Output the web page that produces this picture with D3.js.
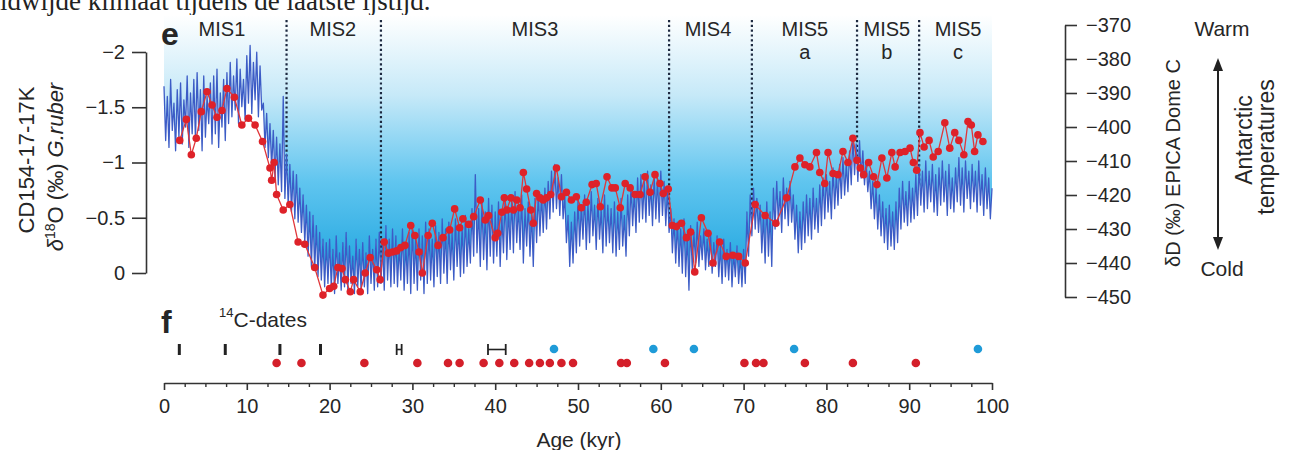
<!DOCTYPE html>
<html><head><meta charset="utf-8">
<script src="https://cdn.jsdelivr.net/npm/d3@7"></script>
<style>
body{margin:0;background:#fff}
svg{display:block}
text{font-family:"Liberation Sans",Arial,Helvetica,sans-serif;fill:#262626}
</style>
</head><body>
<svg id="chart" width="1296" height="450"></svg>
<script>
// ---------------- DATA ----------------
const ageTicks = [0,10,20,30,40,50,60,70,80,90,100];
const ageMinorTicks = [2.5,5,7.5,12.5,15,17.5,22.5,25,27.5,32.5,35,37.5,42.5,45,47.5,52.5,55,57.5,62.5,65,67.5,72.5,75,77.5,82.5,85,87.5,92.5,95,97.5];
const leftTicks = [0,-0.5,-1,-1.5,-2];
const rightTicks = [-370,-380,-390,-400,-410,-420,-430,-440,-450];

const misBoundaries = [14.8,26.2,61.0,71.0,83.7,91.2];
const misNames = ["MIS1","MIS2","MIS3","MIS4","MIS5","MIS5","MIS5"];
const misSubs  = ["","","","","a","b","c"];
const misCenters = [7.0,20.4,44.8,65.7,77.4,87.3,95.9];

// EPICA Dome C deltaD (permil), [age kyr, value] — high-resolution record
const epicaDD = [
[0,-388],[0.2,-404],[0.4,-391],[0.6,-406],[0.8,-386],[1,-401],[1.2,-393],[1.4,-407],[1.6,-389],[1.8,-403],
[2,-387],[2.2,-405],[2.4,-392],[2.6,-400],[2.8,-385],[3,-406],[3.2,-390],[3.4,-402],[3.6,-386],[3.8,-404],
[4,-384],[4.2,-401],[4.4,-389],[4.6,-407],[4.8,-385],[5,-403],[5.2,-391],[5.4,-399],[5.6,-387],[5.8,-405],
[6,-385],[6.2,-402],[6.4,-383],[6.6,-406],[6.8,-390],[7,-400],[7.2,-386],[7.4,-404],[7.6,-384],[7.8,-399],
[8,-381],[8.2,-397],[8.4,-385],[8.6,-395],[8.8,-380],[9,-399],[9.2,-383],[9.4,-394],[9.6,-386],[9.8,-398],
[10,-379],[10.2,-393],[10.4,-376],[10.6,-396],[10.8,-381],[11,-392],[11.2,-378],[11.4,-397],[11.6,-382],[11.8,-395],
[12,-393],[12.2,-406],[12.4,-396],[12.6,-409],[12.8,-399],[13,-412],[13.2,-401],[13.4,-415],[13.6,-403],[13.8,-417],
[14,-405],[14.2,-419],[14.4,-391],[14.6,-421],[14.8,-408],[15,-423],[15.2,-411],[15.4,-425],[15.6,-413],[15.8,-427],
[16,-414],[16.2,-428],[16.4,-418],[16.6,-431],[16.8,-420],[17,-434],[17.2,-423],[17.4,-438],[17.6,-425],[17.8,-441],
[18,-426],[18.2,-442],[18.4,-429],[18.6,-444],[18.8,-431],[19,-445],[19.2,-433],[19.4,-447],[19.6,-434],[19.8,-446],
[20,-433],[20.2,-447],[20.4,-436],[20.6,-449],[20.8,-432],[21,-446],[21.2,-437],[21.4,-448],[21.6,-434],[21.8,-447],
[22,-431],[22.2,-448],[22.4,-435],[22.6,-446],[22.8,-438],[23,-449],[23.2,-433],[23.4,-447],[23.6,-436],[23.8,-448],
[24,-434],[24.2,-447],[24.4,-437],[24.6,-449],[24.8,-432],[25,-446],[25.2,-436],[25.4,-448],[25.6,-433],[25.8,-447],
[26,-431],[26.2,-446],[26.4,-434],[26.6,-448],[26.8,-429],[27,-445],[27.2,-433],[27.4,-447],[27.6,-430],[27.8,-446],
[28,-432],[28.2,-447],[28.4,-435],[28.6,-445],[28.8,-430],[29,-448],[29.2,-434],[29.4,-446],[29.6,-431],[29.8,-449],
[30,-429],[30.2,-446],[30.4,-433],[30.6,-448],[30.8,-430],[31,-445],[31.2,-432],[31.4,-449],[31.6,-428],[31.8,-446],
[32,-430],[32.2,-445],[32.4,-433],[32.6,-447],[32.8,-429],[33,-444],[33.2,-431],[33.4,-446],[33.6,-427],[33.8,-443],
[34,-430],[34.2,-446],[34.4,-428],[34.6,-442],[34.8,-431],[35,-445],[35.2,-427],[35.4,-441],[35.6,-429],[35.8,-444],
[36,-429],[36.2,-443],[36.4,-426],[36.6,-441],[36.8,-430],[37,-440],[37.2,-424],[37.4,-438],[37.6,-414],[37.8,-437],
[38,-424],[38.2,-441],[38.4,-422],[38.6,-439],[38.8,-425],[39,-442],[39.2,-421],[39.4,-438],[39.6,-423],[39.8,-440],
[40,-425],[40.2,-438],[40.4,-422],[40.6,-441],[40.8,-426],[41,-437],[41.2,-420],[41.4,-439],[41.6,-424],[41.8,-436],
[42,-421],[42.2,-437],[42.4,-419],[42.6,-434],[42.8,-423],[43,-436],[43.2,-420],[43.4,-440],[43.6,-424],[43.8,-435],
[44,-422],[44.2,-438],[44.4,-425],[44.6,-441],[44.8,-421],[45,-434],[45.2,-419],[45.4,-432],[45.6,-420],[45.8,-431],
[46,-418],[46.2,-430],[46.4,-416],[46.6,-427],[46.8,-413],[47,-425],[47.2,-411],[47.4,-424],[47.6,-415],[47.8,-426],
[48,-414],[48.2,-427],[48.4,-420],[48.6,-434],[48.8,-426],[49,-441],[49.2,-428],[49.4,-440],[49.6,-425],[49.8,-437],
[50,-421],[50.2,-435],[50.4,-423],[50.6,-433],[50.8,-420],[51,-436],[51.2,-422],[51.4,-434],[51.6,-419],[51.8,-432],
[52,-423],[52.2,-436],[52.4,-421],[52.6,-433],[52.8,-424],[53,-437],[53.2,-420],[53.4,-435],[53.6,-423],[53.8,-434],
[54,-424],[54.2,-437],[54.4,-422],[54.6,-438],[54.8,-425],[55,-436],[55.2,-421],[55.4,-435],[55.6,-426],[55.8,-438],
[56,-420],[56.2,-432],[56.4,-417],[56.6,-429],[56.8,-419],[57,-431],[57.2,-415],[57.4,-428],[57.6,-414],[57.8,-427],
[58,-416],[58.2,-428],[58.4,-413],[58.6,-426],[58.8,-417],[59,-429],[59.2,-414],[59.4,-427],[59.6,-415],[59.8,-428],
[60,-413],[60.2,-426],[60.4,-416],[60.6,-429],[60.8,-418],[61,-431],[61.2,-424],[61.4,-437],[61.6,-427],[61.8,-440],
[62,-428],[62.2,-441],[62.4,-430],[62.6,-443],[62.8,-427],[63,-444],[63.2,-432],[63.4,-448],[63.6,-429],[63.8,-442],
[64,-431],[64.2,-440],[64.4,-428],[64.6,-441],[64.8,-432],[65,-439],[65.2,-430],[65.4,-442],[65.6,-433],[65.8,-441],
[66,-431],[66.2,-443],[66.4,-434],[66.6,-441],[66.8,-432],[67,-444],[67.2,-435],[67.4,-446],[67.6,-433],[67.8,-444],
[68,-436],[68.2,-445],[68.4,-434],[68.6,-447],[68.8,-437],[69,-444],[69.2,-435],[69.4,-446],[69.6,-438],[69.8,-447],
[70,-436],[70.2,-446],[70.4,-425],[70.6,-438],[70.8,-420],[71,-432],[71.2,-418],[71.4,-430],[71.6,-421],[71.8,-431],
[72,-423],[72.2,-437],[72.4,-426],[72.6,-440],[72.8,-422],[73,-438],[73.2,-425],[73.4,-441],[73.6,-418],[73.8,-430],
[74,-416],[74.2,-428],[74.4,-419],[74.6,-431],[74.8,-415],[75,-427],[75.2,-418],[75.4,-429],[75.6,-416],[75.8,-428],
[76,-420],[76.2,-433],[76.4,-423],[76.6,-437],[76.8,-425],[77,-436],[77.2,-422],[77.4,-434],[77.6,-420],[77.8,-432],
[78,-421],[78.2,-433],[78.4,-418],[78.6,-430],[78.8,-421],[79,-431],[79.2,-417],[79.4,-429],[79.6,-415],[79.8,-427],
[80,-414],[80.2,-425],[80.4,-416],[80.6,-427],[80.8,-412],[81,-424],[81.2,-414],[81.4,-423],[81.6,-411],[81.8,-421],
[82,-409],[82.2,-420],[82.4,-411],[82.6,-419],[82.8,-407],[83,-417],[83.2,-403],[83.4,-414],[83.6,-405],[83.8,-416],
[84,-404],[84.2,-415],[84.4,-407],[84.6,-417],[84.8,-410],[85,-419],[85.2,-413],[85.4,-424],[85.6,-416],[85.8,-427],
[86,-418],[86.2,-430],[86.4,-420],[86.6,-432],[86.8,-422],[87,-434],[87.2,-424],[87.4,-436],[87.6,-423],[87.8,-435],
[88,-425],[88.2,-436],[88.4,-422],[88.6,-434],[88.8,-418],[89,-430],[89.2,-416],[89.4,-428],[89.6,-419],[89.8,-429],
[90,-416],[90.2,-428],[90.4,-418],[90.6,-427],[90.8,-414],[91,-426],[91.2,-411],[91.4,-423],[91.6,-413],[91.8,-425],
[92,-410],[92.2,-424],[92.4,-413],[92.6,-422],[92.8,-411],[93,-425],[93.2,-414],[93.4,-426],[93.6,-412],[93.8,-423],
[94,-410],[94.2,-422],[94.4,-413],[94.6,-426],[94.8,-411],[95,-424],[95.2,-415],[95.4,-425],[95.6,-412],[95.8,-422],
[96,-409],[96.2,-423],[96.4,-412],[96.6,-425],[96.8,-410],[97,-421],[97.2,-413],[97.4,-424],[97.6,-411],[97.8,-422],
[98,-413],[98.2,-425],[98.4,-410],[98.6,-423],[98.8,-414],[99,-426],[99.2,-412],[99.4,-424],[99.6,-415],[99.8,-427],
[100,-418]
];

// CD154-17-17K G. ruber d18O (permil), [age kyr, value]
const ruberD18O = [
[1.9,-1.20],[2.7,-1.39],[3.3,-1.07],[3.9,-1.22],[4.5,-1.46],[5.2,-1.64],[5.8,-1.52],[6.4,-1.41],[7.0,-1.47],[7.6,-1.67],
[8.5,-1.59],[9.4,-1.34],[10.2,-1.40],[11.0,-1.34],[11.9,-1.19],[12.8,-0.95],[13.0,-0.84],[13.3,-1.00],[13.6,-0.71],[14.4,-0.57],
[15.2,-0.62],[16.2,-0.28],[17.0,-0.26],[18.2,-0.05],[19.2,0.20],[20.0,0.14],[20.5,0.12],[21.0,-0.05],[21.5,-0.04],[21.9,0.06],
[22.5,0.17],[22.9,0.06],[23.7,0.17],[24.3,0.00],[24.9,-0.14],[25.7,-0.03],[26.1,0.06],[26.6,-0.28],[27.1,-0.18],[27.6,-0.19],
[28.1,-0.20],[28.6,-0.23],[29.1,-0.25],[29.8,-0.43],[30.3,-0.34],[30.8,-0.19],[31.2,0.00],[31.9,-0.34],[32.4,-0.45],[33.1,-0.25],
[33.7,-0.32],[34.5,-0.39],[35.1,-0.58],[35.7,-0.41],[36.1,-0.49],[36.8,-0.44],[37.4,-0.51],[38.2,-0.66],[38.8,-0.48],[39.2,-0.52],
[40.0,-0.32],[40.3,-0.36],[40.8,-0.55],[41.1,-0.68],[41.4,-0.57],[41.9,-0.68],[42.2,-0.57],[42.6,-0.66],[43.0,-0.59],[43.4,-0.91],
[43.8,-0.76],[44.3,-0.57],[44.6,-0.45],[45.0,-0.72],[45.4,-0.68],[45.8,-0.66],[46.2,-0.68],[46.7,-0.71],[47.4,-0.95],[48.0,-0.69],
[48.6,-0.73],[49.2,-0.66],[49.8,-0.69],[50.4,-0.59],[51.0,-0.64],[51.7,-0.80],[52.2,-0.81],[52.7,-0.60],[53.5,-0.87],[54.1,-0.77],
[54.5,-0.77],[55.1,-0.59],[55.7,-0.81],[56.3,-0.77],[56.9,-0.71],[57.5,-0.71],[58.1,-0.87],[58.7,-0.73],[59.3,-0.89],[59.9,-0.81],
[60.3,-0.72],[60.9,-0.76],[61.4,-0.43],[61.9,-0.42],[62.5,-0.45],[63.1,-0.32],[63.6,-0.37],[64.1,-0.01],[64.9,-0.50],[65.7,-0.36],
[66.3,-0.09],[67.1,-0.28],[67.9,-0.15],[68.7,-0.16],[69.4,-0.15],[70.2,-0.09],[71.4,-0.62],[72.6,-0.52],[73.9,-0.45],[75.2,-0.68],
[76.2,-0.96],[76.8,-1.04],[77.4,-0.98],[78.0,-0.96],[78.8,-1.09],[79.2,-0.91],[79.8,-0.81],[80.2,-1.09],[80.8,-0.90],[81.4,-0.89],
[82.0,-1.10],[82.6,-1.00],[83.2,-1.22],[83.7,-1.02],[84.1,-0.95],[84.5,-0.89],[85.1,-1.00],[85.7,-0.87],[86.1,-0.80],[86.7,-1.04],
[87.3,-0.86],[87.9,-1.09],[88.3,-0.96],[88.9,-1.09],[89.5,-1.10],[90.1,-1.13],[90.5,-1.00],[90.9,-0.93],[91.3,-1.27],[91.8,-1.14],
[92.4,-1.20],[92.9,-1.05],[93.5,-1.10],[94.3,-1.36],[94.9,-1.13],[95.5,-1.27],[96.0,-1.20],[96.6,-1.07],[97.1,-1.37],[97.5,-1.34],
[97.9,-1.10],[98.3,-1.25],[98.9,-1.19]
];

// 14C dates: [age kyr, half-error kyr]
const c14Dates = [[1.85,0],[7.4,0],[14.0,0],[18.9,0],[28.4,0.3],[40.2,1.07]];
// tie-point ages (kyr)
const redTiePoints = [13.6,16.6,24.2,30.6,34.3,35.7,38.6,40.5,42.3,44.1,45.4,46.6,48.0,49.4,55.2,55.9,60.5,70.1,71.5,72.4,77.4,83.2,90.8];
const blueTiePoints = [47.1,59.1,64.0,76.1,98.3];

// ---------------- DRAW ----------------
const svg = d3.select("#chart");
const x  = d3.scaleLinear().domain([0,100]).range([164,992]);
const yL = d3.scaleLinear().domain([0,-2]).range([273,52]);
const yR = d3.scaleLinear().domain([-450,-370]).range([297,25]);
const plotTop = 15, plotBottom = 302;

// caption remnant at very top (cropped in the source)
svg.append("text").attr("x",0).attr("y",10)
  .style("font-family","'Liberation Serif',serif").style("font-size","27px").style("fill","#222")
  .text("ldwijde klimaat tijdens de laatste ijstijd.");

const defs = svg.append("defs");
const grad = defs.append("linearGradient").attr("id","bg").attr("gradientUnits","userSpaceOnUse")
  .attr("x1",0).attr("x2",0).attr("y1",plotTop).attr("y2",plotBottom);
grad.append("stop").attr("offset","0%").attr("stop-color","#ffffff");
grad.append("stop").attr("offset","28%").attr("stop-color","#c6e9f8");
grad.append("stop").attr("offset","58%").attr("stop-color","#60c5ef");
grad.append("stop").attr("offset","100%").attr("stop-color","#0c9cdb");

// gradient area above EPICA curve
svg.append("path").datum(epicaDD)
  .attr("d", d3.area().x(d=>x(d[0])).y0(plotTop).y1(d=>yR(d[1])))
  .attr("fill","url(#bg)");

// MIS boundaries
svg.append("g").selectAll("line").data(misBoundaries).join("line")
  .attr("x1",d=>x(d)).attr("x2",d=>x(d)).attr("y1",20).attr("y2",plotBottom)
  .attr("stroke","#1d2940").attr("stroke-width",2.2).attr("stroke-dasharray","2.2,2.6");

// white below curve (hides boundaries)
svg.append("path").datum(epicaDD)
  .attr("d", d3.area().x(d=>x(d[0])).y0(d=>yR(d[1])).y1(plotBottom+4))
  .attr("fill","#ffffff");

// EPICA line
svg.append("path").datum(epicaDD)
  .attr("d", d3.line().x(d=>x(d[0])).y(d=>yR(d[1])))
  .attr("fill","none").attr("stroke","#3c5cc6").attr("stroke-width",1.3).attr("stroke-linejoin","round");

// G. ruber line + dots
svg.append("path").datum(ruberD18O)
  .attr("d", d3.line().x(d=>x(d[0])).y(d=>yL(d[1])))
  .attr("fill","none").attr("stroke","#e0363a").attr("stroke-width",1.3);
svg.append("g").selectAll("circle").data(ruberD18O).join("circle")
  .attr("cx",d=>x(d[0])).attr("cy",d=>yL(d[1])).attr("r",3.8).attr("fill","#de2229");

// MIS labels
const misG = svg.append("g").style("font-size","20px").attr("text-anchor","middle");
misG.selectAll("text.n").data(misNames).join("text").attr("class","n")
  .attr("x",(d,i)=>x(misCenters[i])).attr("y",36).text(d=>d);
misG.selectAll("text.s").data(misSubs).join("text").attr("class","s")
  .attr("x",(d,i)=>x(misCenters[i])).attr("y",59).text(d=>d);

svg.append("text").attr("x",161).attr("y",45).style("font-size","32px").style("font-weight","bold").text("e");

// left axis
const fmtL = d => d===0 ? "0" : "\u2212" + Math.abs(d);
const axL = svg.append("g").attr("transform","translate(146,0)")
  .call(d3.axisLeft(yL).tickValues(leftTicks).tickFormat(fmtL).tickSize(14).tickPadding(7).tickSizeOuter(0));
axL.selectAll("text").style("font-size","20px").style("font-family","'Liberation Sans',Arial,sans-serif").attr("fill","#262626");
axL.selectAll("path,line").attr("stroke","#333").attr("stroke-width",1.6);

// right axis
const axR = svg.append("g").attr("transform","translate(1065,0)")
  .call(d3.axisRight(yR).tickValues(rightTicks).tickFormat(d=>"\u2212"+Math.abs(d)).tickSize(12).tickPadding(9).tickSizeOuter(0));
axR.selectAll("text").style("font-size","20px").style("font-family","'Liberation Sans',Arial,sans-serif").attr("fill","#262626");
axR.selectAll("path,line").attr("stroke","#333").attr("stroke-width",1.6);

// axis titles
svg.append("text").attr("transform","translate(34,160) rotate(-90)").attr("text-anchor","middle")
  .style("font-size","22px").text("CD154-17-17K");
const t2 = svg.append("text").attr("transform","translate(63,167) rotate(-90)").attr("text-anchor","middle").style("font-size","22px");
t2.append("tspan").style("font-style","italic").text("\u03B4");
t2.append("tspan").attr("dy",-8).style("font-size","14px").text("18");
t2.append("tspan").attr("dy",8).text("O (\u2030) ");
t2.append("tspan").style("font-style","italic").text("G.ruber");

svg.append("text").attr("transform","translate(1180,163) rotate(-90)").attr("text-anchor","middle")
  .style("font-size","20px").text("\u03B4D (\u2030) EPICA Dome C");

svg.append("text").attr("x",1222).attr("y",36).attr("text-anchor","middle").style("font-size","21px").text("Warm");
svg.append("text").attr("x",1222).attr("y",276).attr("text-anchor","middle").style("font-size","21px").text("Cold");
svg.append("line").attr("x1",1218).attr("x2",1218).attr("y1",68).attr("y2",240).attr("stroke","#222").attr("stroke-width",2);
svg.append("path").attr("d","M1218,58 L1213,71 L1223,71 Z").attr("fill","#222");
svg.append("path").attr("d","M1218,250 L1213,237 L1223,237 Z").attr("fill","#222");
svg.append("text").attr("transform","translate(1252,140) rotate(-90)").attr("text-anchor","middle").style("font-size","23px").text("Antarctic");
svg.append("text").attr("transform","translate(1274,147) rotate(-90)").attr("text-anchor","middle").style("font-size","23px").text("temperatures");

// panel f
svg.append("text").attr("x",161).attr("y",333).style("font-size","32px").style("font-weight","bold").text("f");
const ct = svg.append("text").attr("x",219).attr("y",327).style("font-size","21px");
ct.append("tspan").attr("dy",-10).style("font-size","13px").text("14");
ct.append("tspan").attr("dy",10).text("C-dates");

const cg = svg.append("g").attr("stroke","#222");
c14Dates.forEach(([a,e])=>{
  if (e===0) {
    cg.append("line").attr("x1",x(a)).attr("x2",x(a)).attr("y1",344).attr("y2",355).attr("stroke-width",3);
  } else {
    cg.append("line").attr("x1",x(a-e)).attr("x2",x(a+e)).attr("y1",349.5).attr("y2",349.5).attr("stroke-width",1.6);
    cg.append("line").attr("x1",x(a-e)).attr("x2",x(a-e)).attr("y1",344).attr("y2",355).attr("stroke-width",1.8);
    cg.append("line").attr("x1",x(a+e)).attr("x2",x(a+e)).attr("y1",344).attr("y2",355).attr("stroke-width",1.8);
  }
});
svg.append("g").selectAll("circle").data(redTiePoints).join("circle")
  .attr("cx",d=>x(d)).attr("cy",363).attr("r",4.3).attr("fill","#d41f2a");
svg.append("g").selectAll("circle").data(blueTiePoints).join("circle")
  .attr("cx",d=>x(d)).attr("cy",349).attr("r",4.3).attr("fill","#1f9bd8");

// bottom axis
const axB = svg.append("g").attr("transform","translate(0,383)")
  .call(d3.axisBottom(x).tickValues(ageTicks).tickFormat(d3.format("d")).tickSize(7).tickPadding(9).tickSizeOuter(0));
axB.selectAll("text").style("font-size","20px").style("font-family","'Liberation Sans',Arial,sans-serif").attr("fill","#262626");
axB.selectAll("path,line").attr("stroke","#333").attr("stroke-width",1.6);
const axBm = svg.append("g").attr("transform","translate(0,383)")
  .call(d3.axisBottom(x).tickValues(ageMinorTicks).tickFormat("").tickSize(4).tickSizeOuter(0));
axBm.select("path").remove();
axBm.selectAll("line").attr("stroke","#333").attr("stroke-width",1.4);

svg.append("text").attr("x",579).attr("y",447).attr("text-anchor","middle").style("font-size","21px").text("Age (kyr)");
</script>
</body></html>
